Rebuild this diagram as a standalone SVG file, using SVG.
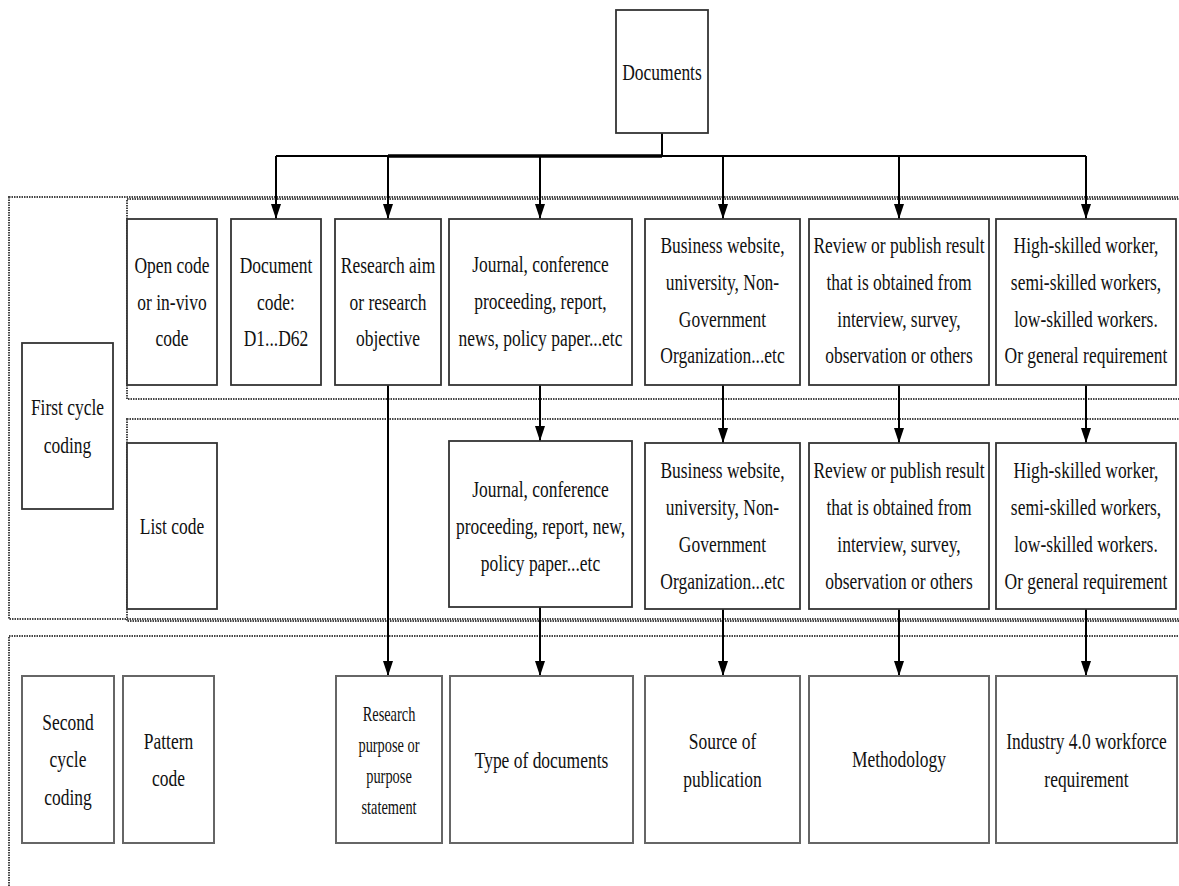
<svg xmlns="http://www.w3.org/2000/svg" width="1179" height="886" viewBox="0 0 1179 886">
<style>
.box{fill:#fff;stroke:#333;stroke-width:1.8}
.box2{fill:#fff;stroke:#666;stroke-width:2}
.t{font-family:"Liberation Serif","Times New Roman",serif;font-size:23px;fill:#111;text-anchor:middle}
.ts{font-family:"Liberation Serif","Times New Roman",serif;font-size:20px;fill:#111;text-anchor:middle}
.dot{fill:none;stroke:#444;stroke-width:2;stroke-dasharray:1.5 1}
.ln{fill:none;stroke:#000;stroke-width:2}
</style>
<defs>
<marker id="ah" viewBox="0 0 15 10" refX="15" refY="5" markerWidth="15" markerHeight="10" markerUnits="userSpaceOnUse" orient="auto">
<path d="M0,0 L15,5 L0,10 z" fill="#000"/>
</marker>
</defs>
<rect width="1179" height="886" fill="#fff"/>
<g id="frames">
<rect class="dot" x="9" y="197" width="1200" height="422"/>
<rect class="dot" x="127" y="199" width="1100" height="200"/>
<rect class="dot" x="127" y="419" width="1100" height="202"/>
<rect class="dot" x="9" y="636" width="1200" height="300"/>
</g>
<g id="connectors">
<path class="ln" d="M662,133 V156 M276,156 H1086"/>
<path d="M388,156 H662" stroke="#000" stroke-width="3.5" fill="none"/>
<path class="ln" marker-end="url(#ah)" d="M276,156 V219"/>
<path class="ln" marker-end="url(#ah)" d="M388,156 V219"/>
<path class="ln" marker-end="url(#ah)" d="M540,156 V219"/>
<path class="ln" marker-end="url(#ah)" d="M723,156 V219"/>
<path class="ln" marker-end="url(#ah)" d="M899,156 V219"/>
<path class="ln" marker-end="url(#ah)" d="M1086,156 V219"/>
<path class="ln" marker-end="url(#ah)" d="M540,385 V441"/>
<path class="ln" marker-end="url(#ah)" d="M723,385 V443"/>
<path class="ln" marker-end="url(#ah)" d="M899,385 V443"/>
<path class="ln" marker-end="url(#ah)" d="M1086,385 V443"/>
<path class="ln" marker-end="url(#ah)" d="M388,385 V676"/>
<path class="ln" marker-end="url(#ah)" d="M540,607 V676"/>
<path class="ln" marker-end="url(#ah)" d="M723,609 V676"/>
<path class="ln" marker-end="url(#ah)" d="M899,609 V676"/>
<path class="ln" marker-end="url(#ah)" d="M1086,609 V676"/>
</g>
<g id="documents">
<rect class="box" x="616" y="10" width="92" height="123"/>
<text class="t" transform="matrix(0.76 0 0 1 662 0)"><tspan x="0" y="80">Documents</tspan></text>
</g>
<g id="open-code">
<rect class="box" x="127" y="219" width="90" height="166"/>
<text class="t" transform="matrix(0.76 0 0 1 172 0)"><tspan x="0" y="273">Open code</tspan><tspan x="0" y="310">or in-vivo</tspan><tspan x="0" y="346">code</tspan></text>
</g>
<g id="document-code">
<rect class="box" x="231" y="219" width="90" height="166"/>
<text class="t" transform="matrix(0.76 0 0 1 276 0)"><tspan x="0" y="273">Document</tspan><tspan x="0" y="310">code:</tspan><tspan x="0" y="346">D1...D62</tspan></text>
</g>
<g id="research-aim">
<rect class="box" x="335" y="219" width="106" height="166"/>
<text class="t" transform="matrix(0.76 0 0 1 388 0)"><tspan x="0" y="273">Research aim</tspan><tspan x="0" y="310">or research</tspan><tspan x="0" y="346">objective</tspan></text>
</g>
<g id="journal-1">
<rect class="box" x="449" y="219" width="183" height="166"/>
<text class="t" transform="matrix(0.76 0 0 1 540.5 0)"><tspan x="0" y="272">Journal, conference</tspan><tspan x="0" y="309">proceeding, report,</tspan><tspan x="0" y="346">news, policy paper...etc</tspan></text>
</g>
<g id="business-1">
<rect class="box" x="645" y="219" width="155" height="166"/>
<text class="t" transform="matrix(0.76 0 0 1 722.5 0)"><tspan x="0" y="253">Business website,</tspan><tspan x="0" y="290">university, Non-</tspan><tspan x="0" y="327">Government</tspan><tspan x="0" y="363">Organization...etc</tspan></text>
</g>
<g id="review-1">
<rect class="box" x="809" y="219" width="180" height="166"/>
<text class="t" transform="matrix(0.76 0 0 1 899 0)"><tspan x="0" y="253">Review or publish result</tspan><tspan x="0" y="290">that is obtained from</tspan><tspan x="0" y="327">interview, survey,</tspan><tspan x="0" y="363">observation or others</tspan></text>
</g>
<g id="skilled-1">
<rect class="box" x="996" y="219" width="180" height="166"/>
<text class="t" transform="matrix(0.76 0 0 1 1086 0)"><tspan x="0" y="253">High-skilled worker,</tspan><tspan x="0" y="290">semi-skilled workers,</tspan><tspan x="0" y="327">low-skilled workers.</tspan><tspan x="0" y="363">Or general requirement</tspan></text>
</g>
<g id="first-cycle">
<rect class="box" x="22" y="343" width="91" height="166"/>
<text class="t" transform="matrix(0.76 0 0 1 67.5 0)"><tspan x="0" y="415">First cycle</tspan><tspan x="0" y="453">coding</tspan></text>
</g>
<g id="list-code">
<rect class="box" x="127" y="443" width="90" height="166"/>
<text class="t" transform="matrix(0.76 0 0 1 172 0)"><tspan x="0" y="534">List code</tspan></text>
</g>
<g id="journal-2">
<rect class="box" x="449" y="441" width="183" height="166"/>
<text class="t" transform="matrix(0.76 0 0 1 540.5 0)"><tspan x="0" y="497">Journal, conference</tspan><tspan x="0" y="534">proceeding, report, new,</tspan><tspan x="0" y="571">policy paper...etc</tspan></text>
</g>
<g id="business-2">
<rect class="box" x="645" y="443" width="155" height="166"/>
<text class="t" transform="matrix(0.76 0 0 1 722.5 0)"><tspan x="0" y="478">Business website,</tspan><tspan x="0" y="515">university, Non-</tspan><tspan x="0" y="552">Government</tspan><tspan x="0" y="589">Organization...etc</tspan></text>
</g>
<g id="review-2">
<rect class="box" x="809" y="443" width="180" height="166"/>
<text class="t" transform="matrix(0.76 0 0 1 899 0)"><tspan x="0" y="478">Review or publish result</tspan><tspan x="0" y="515">that is obtained from</tspan><tspan x="0" y="552">interview, survey,</tspan><tspan x="0" y="589">observation or others</tspan></text>
</g>
<g id="skilled-2">
<rect class="box" x="996" y="443" width="180" height="166"/>
<text class="t" transform="matrix(0.76 0 0 1 1086 0)"><tspan x="0" y="478">High-skilled worker,</tspan><tspan x="0" y="515">semi-skilled workers,</tspan><tspan x="0" y="552">low-skilled workers.</tspan><tspan x="0" y="589">Or general requirement</tspan></text>
</g>
<g id="second-cycle">
<rect class="box2" x="22" y="676" width="92" height="167"/>
<text class="t" transform="matrix(0.76 0 0 1 68 0)"><tspan x="0" y="730">Second</tspan><tspan x="0" y="767">cycle</tspan><tspan x="0" y="805">coding</tspan></text>
</g>
<g id="pattern-code">
<rect class="box2" x="123" y="676" width="91" height="167"/>
<text class="t" transform="matrix(0.76 0 0 1 168.5 0)"><tspan x="0" y="749">Pattern</tspan><tspan x="0" y="786">code</tspan></text>
</g>
<g id="research-purpose">
<rect class="box2" x="336" y="676" width="106" height="167"/>
<text class="ts" transform="matrix(0.72 0 0 1 389 0)"><tspan x="0" y="721">Research</tspan><tspan x="0" y="752">purpose or</tspan><tspan x="0" y="783">purpose</tspan><tspan x="0" y="814">statement</tspan></text>
</g>
<g id="type-of-documents">
<rect class="box2" x="450" y="676" width="183" height="167"/>
<text class="t" transform="matrix(0.76 0 0 1 541.5 0)"><tspan x="0" y="768">Type of documents</tspan></text>
</g>
<g id="source-of-publication">
<rect class="box2" x="645" y="676" width="155" height="167"/>
<text class="t" transform="matrix(0.76 0 0 1 722.5 0)"><tspan x="0" y="749">Source of</tspan><tspan x="0" y="787">publication</tspan></text>
</g>
<g id="methodology">
<rect class="box2" x="809" y="676" width="180" height="167"/>
<text class="t" transform="matrix(0.76 0 0 1 899 0)"><tspan x="0" y="767">Methodology</tspan></text>
</g>
<g id="industry-requirement">
<rect class="box2" x="996" y="676" width="181" height="167"/>
<text class="t" transform="matrix(0.76 0 0 1 1086.5 0)"><tspan x="0" y="749">Industry 4.0 workforce</tspan><tspan x="0" y="787">requirement</tspan></text>
</g>
</svg>
